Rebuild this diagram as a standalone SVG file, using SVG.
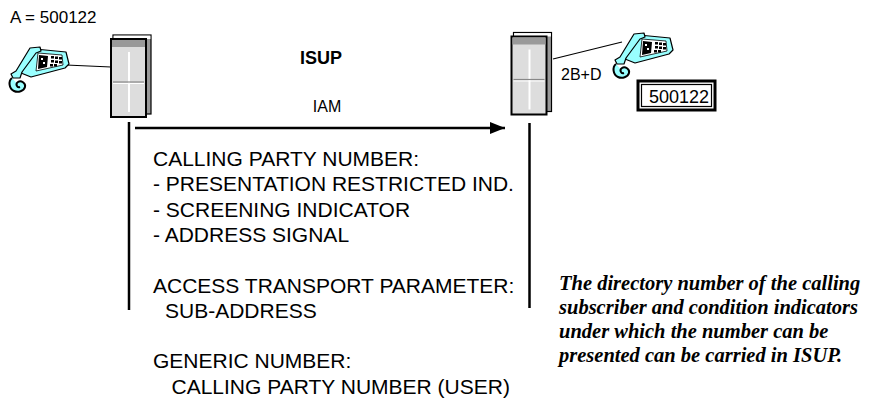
<svg xmlns="http://www.w3.org/2000/svg" width="869" height="398" viewBox="0 0 869 398">
<style>
.t{font-family:"Liberation Sans",Arial,sans-serif;fill:#000}
.big{font-size:21px}
.it{font-family:"Liberation Serif","Times New Roman",serif;font-weight:bold;font-style:italic;font-size:20.5px;fill:#000}
.ln{stroke:#000;fill:none}
.ph{fill:#9ff;stroke:#000;stroke-width:1.2;stroke-linejoin:round}
</style>
<defs>
<marker id="ah" markerWidth="15" markerHeight="12" refX="15" refY="6" orient="auto" markerUnits="userSpaceOnUse"><path d="M0,0 L15,6 L0,12 z" fill="#000"/></marker>
<g id="exch">
<rect x="2" y="-4" width="38" height="79" fill="#999" stroke="#000" stroke-width="1.2"/>
<rect x="2.6" y="-3.4" width="36.8" height="3.4" fill="#fff"/>
<rect x="0" y="0" width="35" height="78" fill="#ddd" stroke="#000" stroke-width="2"/>
<rect x="1" y="1" width="33" height="7" fill="#999"/>
<line x1="18" y1="13" x2="18" y2="73" stroke="#fff" stroke-width="2"/>
<line x1="2" y1="43" x2="33" y2="43" stroke="#888" stroke-width="1.2"/>
<line x1="2" y1="44.5" x2="33" y2="44.5" stroke="#fff" stroke-width="1"/>
</g>
<g id="phone">
<path class="ph" d="M27,2 L58,5 L61,17 L57,21 L23,30 L13,26 Z"/>
<path d="M30,6 L54,8 L55,18 L28,24 Z" fill="#fff" stroke="#000" stroke-width="0.8"/>
<path d="M31,8 L40,9 L39,20 L30,22 Z" fill="#000"/>
<rect x="33" y="11" width="2" height="2" fill="#fff"/>
<rect x="35" y="15" width="2" height="2" fill="#fff"/>
<rect x="43" y="9" width="3" height="2.5" fill="#000"/>
<rect x="47" y="9.5" width="3" height="2.5" fill="#000"/>
<rect x="51" y="10" width="3" height="2.5" fill="#000"/>
<rect x="43" y="13" width="3" height="2.5" fill="#000"/>
<rect x="47" y="13.5" width="3" height="2.5" fill="#000"/>
<rect x="51" y="14" width="3" height="2.5" fill="#000"/>
<rect x="42" y="17" width="3" height="2.5" fill="#000"/>
<rect x="46" y="17" width="3" height="2.5" fill="#000"/>
<path class="ph" d="M22,1 L32,0 L33,4 L28,6 L14,25 L12,31 L5,31 L3,27 L8,24 Z"/>
<path d="M4,31 C0,34 1,42 6,44 C10,46 16,44 17,40 C18,36 13,33 10,35 C7,37 9,41 12,40" fill="#9ff" stroke="#000" stroke-width="2"/>
</g>
</defs>

<g id="connectors">
<line class="ln" x1="66" y1="65" x2="111" y2="67" stroke-width="1.2"/>
<line class="ln" x1="553" y1="59" x2="622" y2="42" stroke-width="1.2"/>
<line class="ln" x1="129" y1="122" x2="129" y2="310" stroke-width="2.5"/>
<line class="ln" x1="529.5" y1="123" x2="529.5" y2="308" stroke-width="2.5"/>
<line class="ln" x1="135" y1="128" x2="505" y2="128" stroke-width="2.5" marker-end="url(#ah)"/>
</g>

<g id="exchange-a"><use href="#exch" transform="translate(111,39)"/></g>
<g id="exchange-b"><use href="#exch" transform="translate(511.5,36.5)"/></g>

<g id="phone-a"><use href="#phone" transform="translate(8,47)"/></g>
<g id="phone-b"><use href="#phone" transform="translate(612,33)"/></g>

<g id="label-a"><text class="t" x="10" y="23" font-size="17">A = 500122</text></g>
<g id="label-isup"><text class="t" x="321" y="64" font-size="18" font-weight="bold" text-anchor="middle">ISUP</text></g>
<g id="label-iam"><text class="t" x="327" y="112" font-size="16" text-anchor="middle">IAM</text></g>
<g id="label-2bd"><text class="t" x="561" y="80" font-size="16">2B+D</text></g>

<g id="display">
<rect x="638" y="81" width="77" height="29" fill="#fff" stroke="#000" stroke-width="3"/>
<rect x="641.5" y="84.5" width="70" height="22" fill="none" stroke="#000" stroke-width="1.2"/>
<text class="t" x="649" y="103" font-size="18">500122</text>
</g>

<g id="parameters" class="t big">
<text x="153" y="166">CALLING PARTY NUMBER:</text>
<text x="153" y="191.3">- PRESENTATION RESTRICTED IND.</text>
<text x="153" y="216.6">- SCREENING INDICATOR</text>
<text x="153" y="241.9">- ADDRESS SIGNAL</text>
<text x="153" y="292.5">ACCESS TRANSPORT PARAMETER:</text>
<text x="165" y="317.8">SUB-ADDRESS</text>
<text x="153" y="368.4">GENERIC NUMBER:</text>
<text x="171.5" y="393.7">CALLING PARTY NUMBER (USER)</text>
</g>

<g id="note" class="it">
<text x="559" y="290">The directory number of the calling</text>
<text x="559" y="314">subscriber and condition indicators</text>
<text x="559" y="338">under which the number can be</text>
<text x="559" y="362">presented can be carried in ISUP.</text>
</g>
</svg>
